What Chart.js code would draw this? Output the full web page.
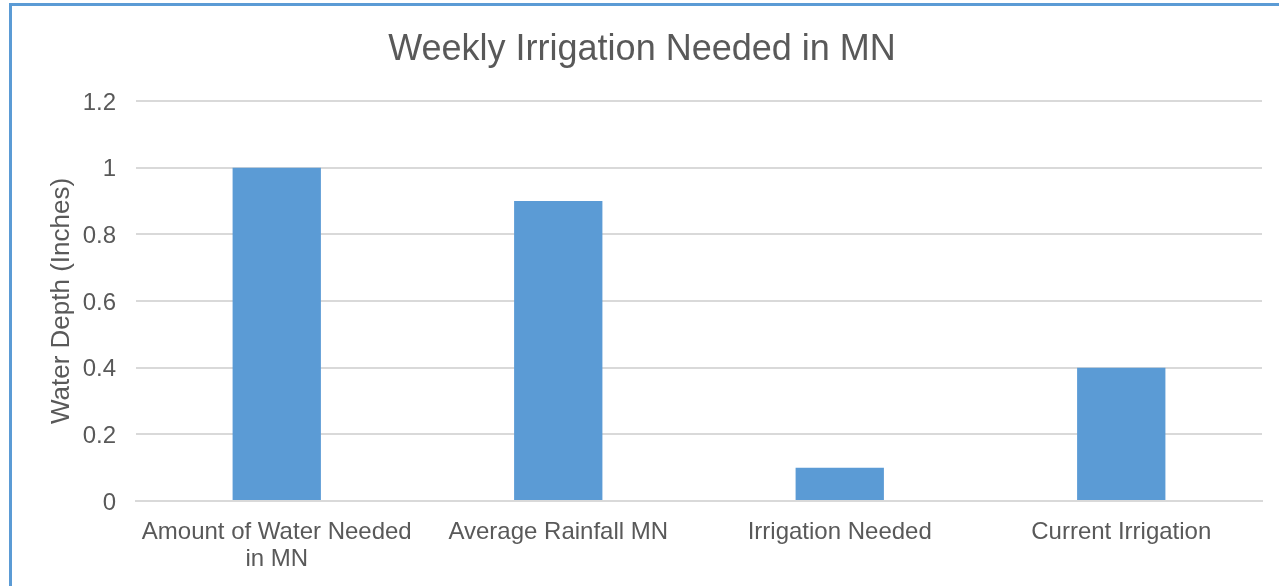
<!DOCTYPE html>
<html>
<head>
<meta charset="utf-8">
<script src="https://cdn.jsdelivr.net/npm/chart.js@4/dist/chart.umd.min.js"></script>
<style>
  html, body { margin: 0; padding: 0; background: #ffffff; overflow: hidden; }
  #wrap { position: relative; width: 1279px; height: 586px; }
  #frame { position: absolute; left: 9px; top: 3px; width: 1400px; height: 700px;
           border-left: 3px solid #5b9bd5; border-top: 3px solid #5b9bd5; box-sizing: border-box; }
  canvas { position: absolute; left: 0; top: 0; }
</style>
</head>
<body>
<div id="wrap">
  <div id="frame"></div>
  <canvas id="c" width="1279" height="586"></canvas>
</div>
<script>
const chartTitle = "Weekly Irrigation Needed in MN";
const yAxisTitle = "Water Depth (Inches)";
const categories = [
  ["Amount of Water Needed", "in MN"],
  "Average Rainfall MN",
  "Irrigation Needed",
  "Current Irrigation"
];
const waterDepth = [1, 0.9, 0.1, 0.4];
const yMin = 0, yMax = 1.2, yStep = 0.2;

const FONT = "'Liberation Sans', Arial, sans-serif";
const TXT = "#595959";
const GRID = "#d9d9d9";
const BAR = "#5b9bd5";

new Chart(document.getElementById('c'), {
  type: 'bar',
  data: {
    labels: categories,
    datasets: [{
      label: yAxisTitle,
      data: waterDepth,
      backgroundColor: BAR,
      borderWidth: 0,
      categoryPercentage: 1,
      barPercentage: 0.3137
    }]
  },
  options: {
    responsive: false,
    animation: false,
    devicePixelRatio: 1,
    layout: { padding: { left: 22, right: 17, top: 0, bottom: 0 } },
    plugins: {
      legend: { display: false },
      tooltip: { enabled: false },
      title: {
        display: true,
        text: chartTitle,
        color: TXT,
        font: { family: FONT, size: 36, weight: 'normal', lineHeight: 1.2 },
        padding: { top: 28.6, bottom: 29.2 }
      }
    },
    scales: {
      x: {
        grid: { display: false, drawTicks: false },
        border: { display: true, color: GRID, width: 2 },
        ticks: {
          color: TXT,
          font: { family: FONT, size: 24, lineHeight: 1.125 },
          padding: 18,
          maxRotation: 0,
          minRotation: 0,
          autoSkip: false
        },
        afterFit: (s) => { s.height = 85; }
      },
      y: {
        min: yMin,
        max: yMax,
        grid: { color: GRID, lineWidth: 2, drawTicks: false },
        border: { display: false },
        ticks: {
          stepSize: yStep,
          color: TXT,
          font: { family: FONT, size: 24 },
          padding: 20,
          labelOffset: 2,
          callback: (v) => String(Number(v.toFixed(1)))
        },
        title: {
          display: true,
          text: yAxisTitle,
          color: TXT,
          font: { family: FONT, size: 26, lineHeight: 1.2 },
          padding: { top: 24, bottom: 0 }
        },
        afterFit: (s) => { s.width = 114; }
      }
    }
  }
});
</script>
</body>
</html>
